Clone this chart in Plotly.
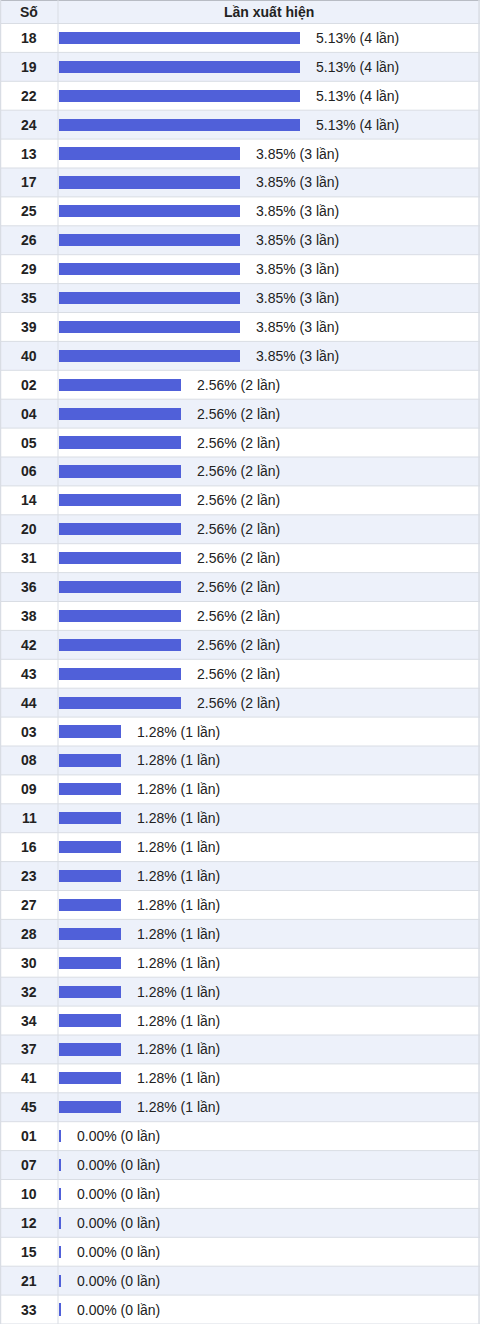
import plotly.graph_objects as go

numbers = ["18", "19", "22", "24",
           "13", "17", "25", "26", "29", "35", "39", "40",
           "02", "04", "05", "06", "14", "20", "31", "36", "38", "42", "43", "44",
           "03", "08", "09", "11", "16", "23", "27", "28", "30", "32", "34", "37", "41", "45",
           "01", "07", "10", "12", "15", "21", "33"]
counts = [4, 4, 4, 4,
          3, 3, 3, 3, 3, 3, 3, 3,
          2, 2, 2, 2, 2, 2, 2, 2, 2, 2, 2, 2,
          1, 1, 1, 1, 1, 1, 1, 1, 1, 1, 1, 1, 1, 1,
          0, 0, 0, 0, 0, 0, 0]
percents = [5.13] * 4 + [3.85] * 8 + [2.56] * 12 + [1.28] * 14 + [0.00] * 7
header_left = "Số"
header_right = "Lần xuất hiện"

W, H = 480, 1324
col_x = 58            # column divider pixel
px_per_unit = 59.8
min_bar = 2.0 / px_per_unit   # minimum visible bar width (like CSS min-width)
header_h = 23.5
n = len(numbers)
row_h = (H - header_h) / n
header_rows = header_h / row_h

x_min = -(col_x + 1) / px_per_unit
x_max = (W - col_x - 1) / px_per_unit

BAR = "#5060d9"
ALT = "#edf1fa"
LINE = "#d9dde4"
FONT = "Liberation Sans, Arial, sans-serif"
FS = 14

ys = list(range(n))
disp = [c + min_bar for c in counts]

fig = go.Figure()
fig.add_trace(go.Bar(
    x=disp, y=ys, orientation="h", width=0.42,
    marker=dict(color=BAR, line=dict(width=0)),
    hoverinfo="skip", showlegend=False,
))

shapes = []
annotations = []
shapes.append(dict(type="rect", xref="paper", yref="y", x0=0, x1=1,
                   y0=-0.5 - header_rows, y1=-0.5, fillcolor=ALT,
                   line=dict(width=0), layer="below"))
for i in ys:
    if i % 2 == 1:
        shapes.append(dict(type="rect", xref="paper", yref="y", x0=0, x1=1,
                           y0=i - 0.5, y1=i + 0.5, fillcolor=ALT,
                           line=dict(width=0), layer="below"))
for i in range(n + 1):
    shapes.append(dict(type="line", xref="paper", yref="y", x0=0, x1=1,
                       y0=i - 0.5, y1=i - 0.5, line=dict(color=LINE, width=1),
                       layer="below"))
shapes.append(dict(type="line", xref="paper", yref="paper", x0=0, x1=1, y0=1, y1=1,
                   line=dict(color="#b8bcc4", width=2), layer="below"))
shapes.append(dict(type="line", xref="paper", yref="paper", x0=0.001, x1=0.001, y0=0, y1=1,
                   line=dict(color=LINE, width=1.5), layer="below"))
shapes.append(dict(type="line", xref="paper", yref="paper", x0=0.998, x1=0.998, y0=0, y1=1,
                   line=dict(color=LINE, width=1.5), layer="below"))
shapes.append(dict(type="line", xref="paper", yref="paper", x0=col_x / W, x1=col_x / W, y0=0, y1=1,
                   line=dict(color=LINE, width=1), layer="below"))

annotations.append(dict(xref="paper", yref="y", x=(col_x / 2) / W, y=-0.5 - header_rows / 2,
                        text="<b>%s</b>" % header_left, showarrow=False,
                        font=dict(size=FS, color="#222", family=FONT), xanchor="center", yanchor="middle"))
annotations.append(dict(xref="paper", yref="y", x=(col_x + (W - col_x) / 2) / W, y=-0.5 - header_rows / 2,
                        text="<b>%s</b>" % header_right, showarrow=False,
                        font=dict(size=FS, color="#222", family=FONT), xanchor="center", yanchor="middle"))

for i, (num, c, p) in enumerate(zip(numbers, counts, percents)):
    annotations.append(dict(xref="paper", yref="y", x=(col_x / 2) / W, y=i,
                            text="<b>%s</b>" % num, showarrow=False,
                            font=dict(size=FS, color="#222", family=FONT),
                            xanchor="center", yanchor="middle"))
    annotations.append(dict(xref="x", yref="y", x=disp[i], y=i, xshift=14,
                            text="%.2f%% (%d lần)" % (p, c), showarrow=False,
                            font=dict(size=FS, color="#222", family=FONT),
                            xanchor="left", yanchor="middle"))

fig.update_layout(
    width=W, height=H,
    margin=dict(l=0, r=0, t=0, b=0),
    paper_bgcolor="white", plot_bgcolor="white",
    xaxis=dict(range=[x_min, x_max], visible=False, fixedrange=True),
    yaxis=dict(range=[n - 0.5, -0.5 - header_rows], visible=False, fixedrange=True),
    shapes=shapes, annotations=annotations,
    bargap=0,
)

fig.write_html("out.html")
